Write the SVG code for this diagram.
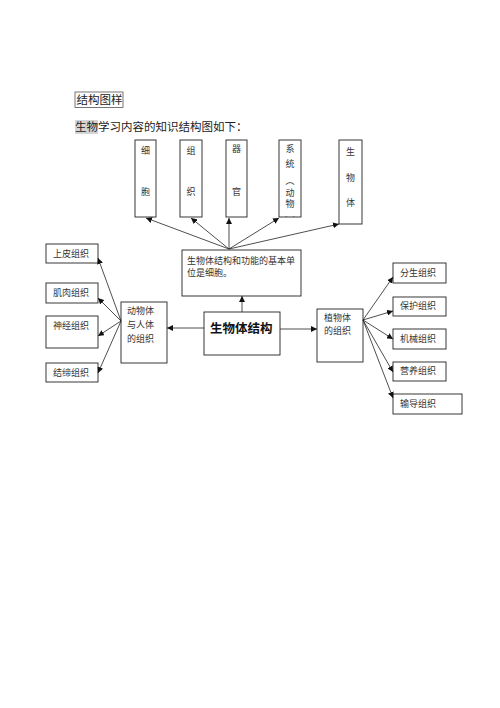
<svg xmlns="http://www.w3.org/2000/svg" width="500" height="708" viewBox="0 0 500 708">
<style>
.box{fill:#fff;stroke:#222;stroke-width:0.9}
.t{font-family:"Liberation Serif","Noto Sans CJK SC",serif;font-size:9px;fill:#333}
.big{font-family:"Liberation Serif","Noto Sans CJK SC",serif;font-size:12.5px;fill:#111;font-weight:bold}
.hd{font-family:"Liberation Serif","Noto Sans CJK SC",serif;font-size:11.5px;fill:#222}
.c{stroke:#222;stroke-width:0.8;fill:none;marker-end:url(#ah)}
.v{text-anchor:middle}
</style>
<defs>
<marker id="ah" markerUnits="userSpaceOnUse" markerWidth="7" markerHeight="6" refX="6" refY="3" orient="auto">
<path d="M0,0 L6,3 L0,6 Z" fill="#111"/>
</marker>
<clipPath id="sysclip"><rect x="279" y="140" width="22" height="77"/></clipPath>
</defs>
<rect width="500" height="708" fill="#fff"/>

<g id="title">
<rect x="75" y="92" width="48" height="15.5" fill="none" stroke="#555" stroke-width="0.8"/>
<text class="hd" x="76.5" y="104">结构图样</text>
</g>
<g id="intro">
<rect x="75" y="120" width="23" height="14" fill="#d4d4d4"/>
<text class="hd" x="75" y="131">生物学习内容的知识结构图如下：</text>
</g>

<g id="n-cell">
<rect class="box" x="135" y="140" width="21" height="77"/>
<text class="t v" x="145.5" y="154">细</text>
<text class="t v" x="145.5" y="195">胞</text>
</g>
<g id="n-tissue">
<rect class="box" x="180" y="140" width="22" height="77"/>
<text class="t v" x="191" y="154">组</text>
<text class="t v" x="191" y="195">织</text>
</g>
<g id="n-organ">
<rect class="box" x="226" y="140" width="21" height="77"/>
<text class="t v" x="236.5" y="152">器</text>
<text class="t v" x="236.5" y="195">官</text>
</g>
<g id="n-system">
<rect class="box" x="279" y="140" width="22" height="77"/>
<g clip-path="url(#sysclip)">
<text class="t v" x="290" y="152">系</text>
<text class="t v" x="290" y="167">统</text>
<text class="t v" x="290" y="184">︵</text>
<text class="t v" x="290" y="196">动</text>
<text class="t v" x="290" y="207">物</text>
<text class="t v" x="290" y="224">︶</text>
</g>
</g>
<g id="n-organism">
<rect class="box" x="339" y="140" width="23" height="84"/>
<text class="t v" x="350.5" y="155">生</text>
<text class="t v" x="350.5" y="181">物</text>
<text class="t v" x="350.5" y="206">体</text>
</g>

<g id="n-basic">
<rect class="box" x="182" y="250" width="119" height="46"/>
<text class="t" x="187" y="264">生物体结构和功能的基本单</text>
<text class="t" x="187" y="276">位是细胞。</text>
</g>

<g id="n-center">
<rect class="box" x="204" y="312" width="76" height="43"/>
<text class="big" x="210" y="333">生物体结构</text>
</g>

<g id="n-animal">
<rect class="box" x="121" y="302" width="46" height="61"/>
<text class="t" x="127" y="314">动物体</text>
<text class="t" x="127" y="328">与人体</text>
<text class="t" x="127" y="342">的组织</text>
</g>
<g id="n-epi">
<rect class="box" x="46" y="244" width="52" height="19"/>
<text class="t" x="53" y="257">上皮组织</text>
</g>
<g id="n-muscle">
<rect class="box" x="46" y="283" width="52" height="20"/>
<text class="t" x="53" y="296">肌肉组织</text>
</g>
<g id="n-nerve">
<rect class="box" x="46" y="316" width="52" height="32"/>
<text class="t" x="53" y="329">神经组织</text>
</g>
<g id="n-conn">
<rect class="box" x="46" y="363" width="52" height="19"/>
<text class="t" x="53" y="376">结缔组织</text>
</g>

<g id="n-plant">
<rect class="box" x="317" y="309" width="46" height="53"/>
<text class="t" x="324" y="321">植物体</text>
<text class="t" x="324" y="334">的组织</text>
</g>
<g id="n-mer">
<rect class="box" x="393" y="263" width="53" height="20"/>
<text class="t" x="400" y="276">分生组织</text>
</g>
<g id="n-prot">
<rect class="box" x="393" y="297" width="53" height="19"/>
<text class="t" x="400" y="309">保护组织</text>
</g>
<g id="n-mech">
<rect class="box" x="393" y="329" width="53" height="20"/>
<text class="t" x="400" y="342">机械组织</text>
</g>
<g id="n-nutr">
<rect class="box" x="393" y="362" width="53" height="19"/>
<text class="t" x="400" y="374">营养组织</text>
</g>
<g id="n-cond">
<rect class="box" x="393" y="394" width="69" height="20"/>
<text class="t" x="400" y="407">输导组织</text>
</g>

<g id="connectors">
<line class="c" x1="229" y1="249" x2="146" y2="218"/>
<line class="c" x1="229" y1="249" x2="191" y2="218"/>
<line class="c" x1="229" y1="249" x2="229" y2="218"/>
<line class="c" x1="229" y1="249" x2="279" y2="218"/>
<line class="c" x1="229" y1="249" x2="339" y2="224"/>
<line class="c" x1="242" y1="312" x2="242" y2="296"/>
<line class="c" x1="204" y1="328" x2="167" y2="328"/>
<line class="c" x1="280" y1="329" x2="317" y2="329"/>
<line class="c" x1="121" y1="321" x2="98" y2="258"/>
<line class="c" x1="121" y1="321" x2="98" y2="298"/>
<line class="c" x1="121" y1="321" x2="98" y2="336"/>
<line class="c" x1="121" y1="321" x2="98" y2="373"/>
<line class="c" x1="363" y1="320" x2="393" y2="277"/>
<line class="c" x1="363" y1="320" x2="393" y2="311"/>
<line class="c" x1="363" y1="320" x2="393" y2="339"/>
<line class="c" x1="363" y1="320" x2="393" y2="372"/>
<line class="c" x1="363" y1="320" x2="393" y2="398"/>
</g>
</svg>
